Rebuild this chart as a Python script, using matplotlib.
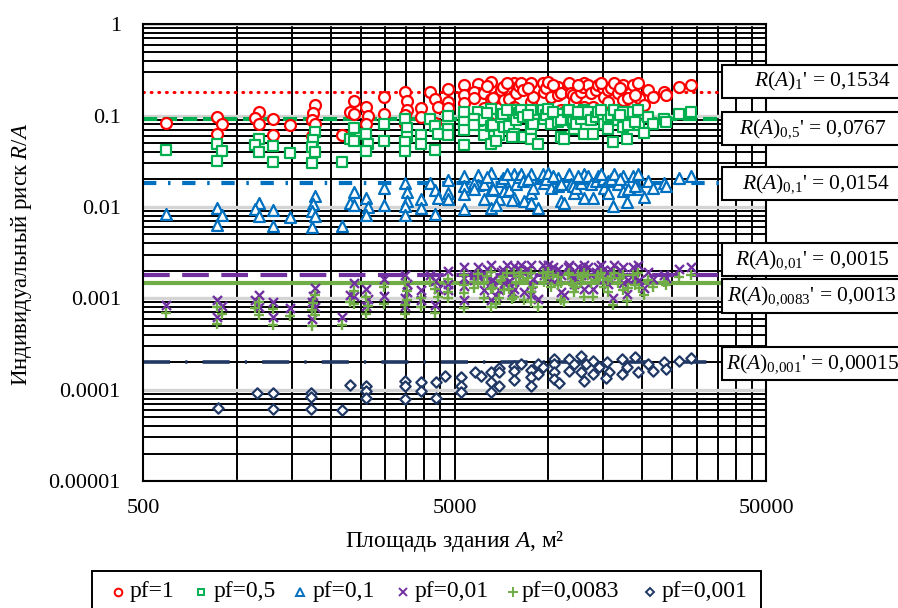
import matplotlib
matplotlib.use('Agg')
import matplotlib.pyplot as plt
from matplotlib.lines import Line2D
from matplotlib.patches import Rectangle
from matplotlib.ticker import FixedLocator, FixedFormatter, NullFormatter

plt.rcParams['font.family'] = ['Liberation Serif', 'DejaVu Serif']
plt.rcParams['mathtext.fontset'] = 'custom'
plt.rcParams['mathtext.rm'] = 'Liberation Serif'
plt.rcParams['mathtext.it'] = 'Liberation Serif:italic'
plt.rcParams['mathtext.bf'] = 'Liberation Serif:bold'

# ---------------- data ----------------
area = [593, 865, 897, 865, 1180, 1146, 1180, 1309, 1309, 1485,
        1786, 1760, 1747, 1786, 1747, 2182, 2384, 2315, 2384, 2606,
        2645, 2606, 2978, 2978, 3479, 3531, 3531, 3479, 3479, 3916,
        3916, 4187, 4313, 4442, 4313, 4748, 4748, 4748, 5345, 5345,
        5345, 5345, 5929, 5929,
        5755, 5755, 6200, 6200, 6526, 6526, 6526, 6625, 6926, 7030,
        7134, 7190, 7461, 7741, 7741, 7854, 8031, 8150, 8272, 8336,
        8777, 8777, 8777, 8905, 9594, 9665, 9808, 9954, 10180, 10720,
        10720, 10960, 10960, 11550, 11630, 11800, 11980, 12070, 12250, 12710,
        12900, 12990, 12990, 13380, 13690, 14200, 14410, 14960, 15070, 15520,
        15520, 15870, 16230, 16720, 17340, 17340, 18000, 18680, 19380, 19520,
        20870, 21650, 23490, 23850, 26260, 28700,
        6380, 6773, 7348, 7625, 8580, 9246, 10330, 11210, 12430, 13890,
        14740, 16100, 16960, 17870, 18960, 20260]

risk_pf1 = [0.084, 0.097, 0.082, 0.063, 0.110, 0.095, 0.080, 0.092, 0.062, 0.078,
            0.131, 0.107, 0.090, 0.080, 0.060, 0.062, 0.146, 0.110, 0.105, 0.125,
            0.099, 0.082, 0.161, 0.105, 0.182, 0.145, 0.116, 0.102, 0.082, 0.122,
            0.097, 0.182, 0.153, 0.125, 0.084, 0.197, 0.142, 0.122, 0.218, 0.169,
            0.138, 0.095, 0.222, 0.176,
            0.182, 0.157, 0.178, 0.122, 0.234, 0.153, 0.097, 0.157, 0.122, 0.192,
            0.206, 0.149, 0.153, 0.228, 0.125, 0.178, 0.212, 0.229, 0.192, 0.116,
            0.229, 0.142, 0.110, 0.161, 0.229, 0.182, 0.202, 0.234, 0.161, 0.207,
            0.169, 0.178, 0.116, 0.218, 0.229, 0.178, 0.169, 0.142, 0.161, 0.182,
            0.207, 0.229, 0.125, 0.218, 0.178, 0.192, 0.218, 0.202, 0.161, 0.192,
            0.142, 0.202, 0.229, 0.178, 0.218, 0.149, 0.157, 0.218, 0.229, 0.157,
            0.192, 0.161, 0.182, 0.169, 0.207, 0.218,
            0.212, 0.105, 0.229, 0.118, 0.202, 0.098, 0.218, 0.110, 0.218, 0.125,
            0.229, 0.102, 0.202, 0.112, 0.169, 0.130]

risk_pf05 = [0.042, 0.0485, 0.041, 0.0315, 0.055, 0.0475, 0.040, 0.046, 0.031, 0.039,
             0.0655, 0.0535, 0.045, 0.040, 0.030, 0.031, 0.073, 0.055, 0.0525, 0.0625,
             0.0495, 0.041, 0.0805, 0.0525, 0.091, 0.0725, 0.058, 0.051, 0.041, 0.061,
             0.0485, 0.091, 0.0765, 0.0625, 0.042, 0.0985, 0.071, 0.061, 0.109, 0.0845,
             0.069, 0.0475, 0.111, 0.088,
             0.091, 0.0785, 0.089, 0.061, 0.117, 0.0765, 0.0485, 0.0785, 0.061, 0.096,
             0.103, 0.0745, 0.0765, 0.114, 0.0625, 0.089, 0.106, 0.1145, 0.096, 0.058,
             0.1145, 0.071, 0.055, 0.0805, 0.1145, 0.091, 0.101, 0.117, 0.0805, 0.1035,
             0.0845, 0.089, 0.058, 0.109, 0.1145, 0.089, 0.0845, 0.071, 0.0805, 0.091,
             0.1035, 0.1145, 0.0625, 0.109, 0.089, 0.096, 0.109, 0.101, 0.0805, 0.096,
             0.071, 0.101, 0.1145, 0.089, 0.109, 0.0745, 0.0785, 0.109, 0.1145, 0.0785,
             0.096, 0.0805, 0.091, 0.0845, 0.1035, 0.109,
             0.106, 0.0525, 0.1145, 0.059, 0.101, 0.049, 0.109, 0.055, 0.109, 0.0625,
             0.1145, 0.051, 0.101, 0.056, 0.0845, 0.065]

risk_pf01 = [0.0084, 0.0097, 0.0082, 0.0063, 0.0110, 0.0095, 0.0080, 0.0092, 0.0062, 0.0078,
             0.0131, 0.0107, 0.0090, 0.0080, 0.0060, 0.0062, 0.0146, 0.0110, 0.0105, 0.0125,
             0.0099, 0.0082, 0.0161, 0.0105, 0.0182, 0.0145, 0.0116, 0.0102, 0.0082, 0.0122,
             0.0097, 0.0182, 0.0153, 0.0125, 0.0084, 0.0197, 0.0142, 0.0122, 0.0218, 0.0169,
             0.0138, 0.0095, 0.0222, 0.0176,
             0.0182, 0.0157, 0.0178, 0.0122, 0.0234, 0.0153, 0.0097, 0.0157, 0.0122, 0.0192,
             0.0206, 0.0149, 0.0153, 0.0228, 0.0125, 0.0178, 0.0212, 0.0229, 0.0192, 0.0116,
             0.0229, 0.0142, 0.0110, 0.0161, 0.0229, 0.0182, 0.0202, 0.0234, 0.0161, 0.0207,
             0.0169, 0.0178, 0.0116, 0.0218, 0.0229, 0.0178, 0.0169, 0.0142, 0.0161, 0.0182,
             0.0207, 0.0229, 0.0125, 0.0218, 0.0178, 0.0192, 0.0218, 0.0202, 0.0161, 0.0192,
             0.0142, 0.0202, 0.0229, 0.0178, 0.0218, 0.0149, 0.0157, 0.0218, 0.0229, 0.0157,
             0.0192, 0.0161, 0.0182, 0.0169, 0.0207, 0.0218,
             0.0212, 0.0105, 0.0229, 0.0118, 0.0202, 0.0098, 0.0218, 0.0110, 0.0218, 0.0125,
             0.0229, 0.0102, 0.0202, 0.0112, 0.0169, 0.0130]

risk_pf001 = [0.00084, 0.00097, 0.00082, 0.00063, 0.00110, 0.00095, 0.00080, 0.00092, 0.00062, 0.00078,
              0.00131, 0.00107, 0.00090, 0.00080, 0.00060, 0.00062, 0.00146, 0.00110, 0.00105, 0.00125,
              0.00099, 0.00082, 0.00161, 0.00105, 0.00182, 0.00145, 0.00116, 0.00102, 0.00082, 0.00122,
              0.00097, 0.00182, 0.00153, 0.00125, 0.00084, 0.00197, 0.00142, 0.00122, 0.00218, 0.00169,
              0.00138, 0.00095, 0.00222, 0.00176,
              0.00182, 0.00157, 0.00178, 0.00122, 0.00234, 0.00153, 0.00097, 0.00157, 0.00122, 0.00192,
              0.00206, 0.00149, 0.00153, 0.00228, 0.00125, 0.00178, 0.00212, 0.00229, 0.00192, 0.00116,
              0.00229, 0.00142, 0.00110, 0.00161, 0.00229, 0.00182, 0.00202, 0.00234, 0.00161, 0.00207,
              0.00169, 0.00178, 0.00116, 0.00218, 0.00229, 0.00178, 0.00169, 0.00142, 0.00161, 0.00182,
              0.00207, 0.00229, 0.00125, 0.00218, 0.00178, 0.00192, 0.00218, 0.00202, 0.00161, 0.00192,
              0.00142, 0.00202, 0.00229, 0.00178, 0.00218, 0.00149, 0.00157, 0.00218, 0.00229, 0.00157,
              0.00192, 0.00161, 0.00182, 0.00169, 0.00207, 0.00218,
              0.00212, 0.00105, 0.00229, 0.00118, 0.00202, 0.00098, 0.00218, 0.00110, 0.00218, 0.00125,
              0.00229, 0.00102, 0.00202, 0.00112, 0.00169, 0.00130]

risk_pf00083 = [0.000697, 0.000805, 0.000681, 0.000523, 0.000913, 0.000789, 0.000664, 0.000764, 0.000515, 0.000647,
                0.001087, 0.000888, 0.000747, 0.000664, 0.000498, 0.000515, 0.001212, 0.000913, 0.000872, 0.001038,
                0.000822, 0.000681, 0.001336, 0.000872, 0.001511, 0.001204, 0.000963, 0.000847, 0.000681, 0.001013,
                0.000805, 0.001511, 0.001270, 0.001038, 0.000697, 0.001635, 0.001179, 0.001013, 0.001809, 0.001403,
                0.001145, 0.000789, 0.001843, 0.001461,
                0.001511, 0.001303, 0.001477, 0.001013, 0.001942, 0.001270, 0.000805, 0.001303, 0.001013, 0.001594,
                0.001710, 0.001237, 0.001270, 0.001892, 0.001038, 0.001477, 0.001760, 0.001901, 0.001594, 0.000963,
                0.001901, 0.001179, 0.000913, 0.001336, 0.001901, 0.001511, 0.001677, 0.001942, 0.001336, 0.001718,
                0.001403, 0.001477, 0.000963, 0.001809, 0.001901, 0.001477, 0.001403, 0.001179, 0.001336, 0.001511,
                0.001718, 0.001901, 0.001038, 0.001809, 0.001477, 0.001594, 0.001809, 0.001677, 0.001336, 0.001594,
                0.001179, 0.001677, 0.001901, 0.001477, 0.001809, 0.001237, 0.001303, 0.001809, 0.001901, 0.001303,
                0.001594, 0.001336, 0.001511, 0.001403, 0.001718, 0.001809,
                0.001760, 0.000872, 0.001901, 0.000979, 0.001677, 0.000813, 0.001809, 0.000913, 0.001809, 0.001038,
                0.001901, 0.000847, 0.001677, 0.000930, 0.001403, 0.001079]

area_pf0001 = [871, 1163, 1309, 1309, 1734, 1734, 1734, 2182, 2315, 2606,
               2606, 2606, 3479, 3479, 3479, 3916, 3916, 4345, 4345, 4678,
               5227, 5227, 5227, 5799, 6060, 6526, 6526, 6526, 6926, 6926,
               6926, 7741, 7741, 7741, 8150, 8777, 8777, 8777, 9246, 9594,
               9246, 10410, 10410, 10410, 10410, 10800, 11630, 11630, 12070, 12710,
               12710, 12990, 13190, 13890, 13890, 14520, 15410, 15630, 15290, 17220,
               17870, 17220, 18960, 19380, 20870, 21650, 23490, 23850, 26260, 28700]
risk_pf0001 = [6.3e-5, 9.2e-5, 9.2e-5, 6.15e-5, 9.2e-5, 8.3e-5, 6.15e-5, 6.0e-5, 1.12e-4, 1.10e-4,
               9.7e-5, 8.1e-5, 1.24e-4, 1.10e-4, 7.9e-5, 1.21e-4, 9.7e-5, 1.21e-4, 8.1e-5, 1.41e-4,
               1.38e-4, 1.10e-4, 9.4e-5, 1.56e-4, 1.41e-4, 1.56e-4, 1.21e-4, 9.4e-5, 1.73e-4, 1.56e-4,
               1.10e-4, 1.82e-4, 1.60e-4, 1.28e-4, 1.91e-4, 1.64e-4, 1.38e-4, 1.10e-4, 1.91e-4, 1.77e-4,
               1.48e-4, 2.16e-4, 1.91e-4, 1.56e-4, 1.31e-4, 1.18e-4, 2.16e-4, 1.60e-4, 1.91e-4, 2.33e-4,
               1.56e-4, 1.24e-4, 1.91e-4, 2.06e-4, 1.48e-4, 1.77e-4, 2.01e-4, 1.56e-4, 1.34e-4, 2.16e-4,
               1.77e-4, 1.48e-4, 2.28e-4, 1.56e-4, 1.91e-4, 1.60e-4, 2.01e-4, 1.68e-4, 2.06e-4, 2.22e-4]

# reference levels (drawn lines) and their labels
ref_levels = [0.182, 0.092, 0.0184, 0.00179, 0.00149, 0.000202]
ref_subs = ['1', '0{,}5', '0{,}1', '0{,}01', '0{,}0083', '0{,}001']
ref_vals = ['0,1534', '0,0767', '0,0154', '0,0015', '0,0013', '0,00015']
legend_labels = ['pf=1', 'pf=0,5', 'pf=0,1', 'pf=0,01', 'pf=0,0083', 'pf=0,001']

x_ticks = [500, 5000, 50000]
x_ticklabels = ['500', '5000', '50000']
y_ticks = [1e-5, 1e-4, 1e-3, 1e-2, 1e-1, 1]
y_ticklabels = ['0.00001', '0.0001', '0.001', '0.01', '0.1', '1']

# ---------------- styles ----------------
C_RED, C_GREEN, C_BLUE = '#ff0000', '#00b050', '#0070c0'
C_PURPLE, C_LGREEN, C_NAVY = '#7030a0', '#70ad47', '#203864'

W, H = 898, 608
fig = plt.figure(figsize=(W / 100, H / 100), dpi=100)
ax = fig.add_axes([143 / W, 1 - 481 / H, (766 - 143) / W, (481 - 24.3) / H])
ax.set_xscale('log')
ax.set_yscale('log')
ax.set_xlim(500, 50000)
ax.set_ylim(1e-5, 1)

# grid: Excel-like minor grid
x_minor = [500 * k for k in range(2, 10)] + [5000 * k for k in range(2, 10)]
y_minor = [k * 10.0 ** n for n in range(-5, 0) for k in range(2, 10) if not (n == -1 and k == 2)]
ax.xaxis.set_major_locator(FixedLocator(x_ticks))
ax.xaxis.set_major_formatter(FixedFormatter(x_ticklabels))
ax.xaxis.set_minor_locator(FixedLocator(x_minor))
ax.xaxis.set_minor_formatter(NullFormatter())
ax.yaxis.set_major_locator(FixedLocator(y_ticks))
ax.yaxis.set_major_formatter(FixedFormatter(y_ticklabels))
ax.yaxis.set_minor_locator(FixedLocator(y_minor))
ax.yaxis.set_minor_formatter(NullFormatter())
ax.set_axisbelow(True)
ax.grid(which='both', axis='x', color='black', lw=1.4)
ax.grid(which='minor', axis='y', color='black', lw=1.4)
ax.grid(which='major', axis='y', color='#d4d4d4', lw=2.4)
ax.tick_params(which='both', length=0)
ax.tick_params(axis='x', pad=13, labelsize=16)
ax.tick_params(axis='y', pad=16, labelsize=16)
for s in ax.spines.values():
    s.set_color('black')
    s.set_linewidth(1.5)

# reference lines
line_styles = [
    dict(color=C_RED, lw=2.2, ls=(0, (0.3, 2.2)), dash_capstyle='round'),
    dict(color=C_GREEN, lw=3.0, ls=(0, (3.4, 1.4))),
    dict(color=C_BLUE, lw=3.0, ls=(0, (3.2, 2.8, 0.6, 2.8))),
    dict(color=C_PURPLE, lw=3.0, ls=(0, (6.4, 3.0))),
    dict(color=C_LGREEN, lw=3.0, ls='-'),
    dict(color=C_NAVY, lw=2.6, ls=(0, (7.5, 4.2, 0.6, 4.2))),
]
for lvl, st in zip(ref_levels, line_styles):
    ax.axhline(lvl, zorder=2, **st)

# scatter series
ax.scatter(area, risk_pf1, s=62, marker='o', facecolors='white', edgecolors=C_RED, linewidths=1.6, zorder=3)
ax.scatter(area, risk_pf05, s=54, marker='s', facecolors='white', edgecolors=C_GREEN, linewidths=1.6, zorder=4)
ax.scatter(area, risk_pf01, s=62, marker='^', facecolors='white', edgecolors=C_BLUE, linewidths=1.6, zorder=5)
ax.scatter(area, risk_pf001, s=42, marker='x', color=C_PURPLE, linewidths=1.7, zorder=6)
ax.scatter(area, risk_pf00083, s=58, marker='+', color=C_LGREEN, linewidths=1.7, zorder=7)
ax.scatter(area_pf0001, risk_pf0001, s=28, marker='D', facecolors='white', edgecolors=C_NAVY, linewidths=1.6, zorder=8)

# annotation boxes on the right
boxes = [(65, 98), (112, 145), (167, 200), (243, 276), (279, 313), (347, 380)]
text_cx = [822, 813, 816, 812, 812, 812]
for (top, bot), cx, sub, val in zip(boxes, text_cx, ref_subs, ref_vals):
    fig.add_artist(Rectangle((722 / W, 1 - bot / H), (905 - 722) / W, (bot - top) / H,
                             transform=fig.transFigure, facecolor='white',
                             edgecolor='black', lw=1.5, zorder=10))
    fig.text(cx / W, 1 - (top + bot) / 2 / H,
             r"$R(A)_{\mathrm{" + sub + "}}$' = " + val,
             ha='center', va='center', fontsize=15.5, zorder=11)

# axis labels
fig.text(22 / W, 1 - 254 / H, "Индивидуальный риск $R/A$", rotation=90,
         ha='center', va='center', fontsize=16.5)
fig.text(454.5 / W, 1 - 541 / H, "Площадь здания $A$, м²", ha='center', va='center', fontsize=16.8)

# legend (drawn as a framed row at the bottom)
fig.add_artist(Rectangle((91.5 / W, 1 - 615 / H), (761 - 91.5) / W, (615 - 571) / H,
                         transform=fig.transFigure, facecolor='white', edgecolor='black', lw=1.4, zorder=10))
leg_marker_x = [117.6, 201, 300, 403, 513, 650]
leg_text_x = [130, 214, 313, 415, 522, 662]
leg_markers = [('o', C_RED, 'white', 5.5), ('s', C_GREEN, 'white', 5.0), ('^', C_BLUE, 'white', 5.5),
               ('x', C_PURPLE, C_PURPLE, 5.5), ('+', C_LGREEN, C_LGREEN, 6.5), ('D', C_NAVY, 'white', 4.2)]
ly = 1 - 592 / H
for mx, tx, (mk, ec, fc, ms), lab in zip(leg_marker_x, leg_text_x, leg_markers, legend_labels):
    fig.add_artist(Line2D([mx / W], [ly], transform=fig.transFigure, marker=mk, markersize=ms,
                          markeredgecolor=ec, markerfacecolor=fc, markeredgewidth=1.4,
                          linestyle='none', zorder=11))
    fig.text(tx / W, ly, lab, ha='left', va='center', fontsize=17, zorder=11)

fig.savefig('out.png', dpi=100)
